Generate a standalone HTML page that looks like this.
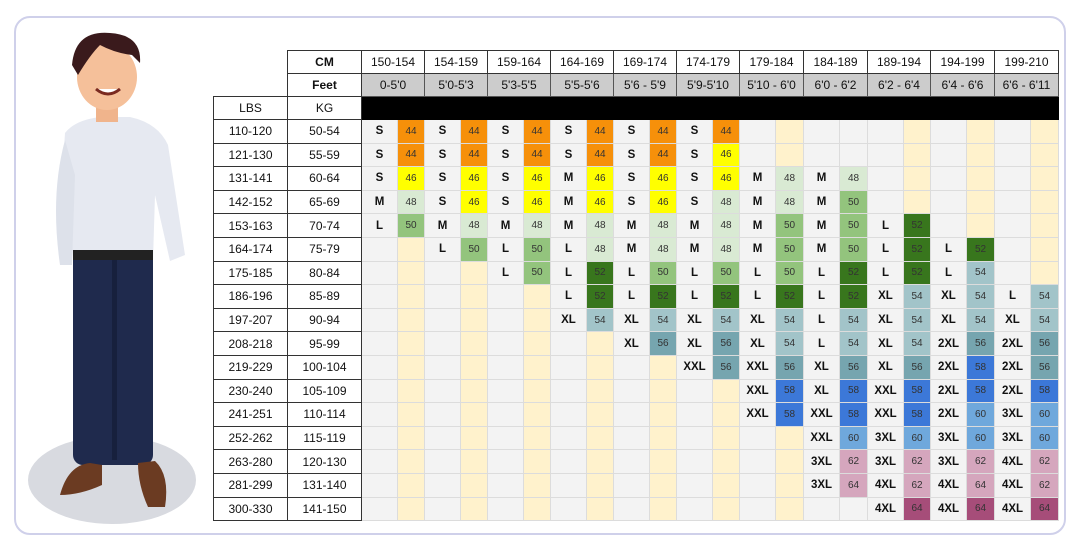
<!DOCTYPE html>
<html><head><meta charset="utf-8"><style>
body{margin:0;width:1080px;height:545px;background:#fff;position:relative;overflow:hidden;font-family:"Liberation Sans",Arial,sans-serif}
.frame{position:absolute;left:14px;top:16px;width:1048px;height:515px;border:2px solid #cfd0ea;border-radius:16px}
table{position:absolute;left:213px;top:50px;border-collapse:collapse;table-layout:fixed}
td{padding:0;text-align:center;height:22.6px;font-size:11.5px;color:#111;border:1px solid #dcdcdc;background:#f3f3f3;font-weight:bold;overflow:hidden;white-space:nowrap}
tr.hd td{height:22px}
td.h{background:#fff;border:1px solid #333;font-weight:normal;font-size:12px}
td.hb{font-weight:bold}
td.f{background:#cccccc;border:1px solid #555;font-weight:normal;font-size:12px}
td.x{border:none;background:#fff}
td.blk{background:#000;border:1px solid #000}
td.lb{background:#fff;border:1px solid #333;font-weight:normal;font-size:12px}
td.c,td.w,td[class^=n]{font-weight:normal;font-size:10px;color:#333}
.c{background:#fff2cc!important}
.w{background:#f3f3f3!important}
.n44{background:#f6900a!important}.n46{background:#ffff00!important}.n48{background:#d9ead3!important}
.n50{background:#93c47d!important}.n52{background:#38761d!important}.n54{background:#a2c4c9!important}
.n56{background:#76a5af!important}.n58{background:#3c78d8!important}.n60{background:#6fa8dc!important}
.n62{background:#d5a6bd!important}.n64{background:#a64d79!important}
tr.d td{height:22.6px}
</style></head><body>
<div class="frame"></div>
<svg style="position:absolute;left:20px;top:25px" width="190" height="500" viewBox="0 0 190 500">
<ellipse cx="92" cy="455" rx="84" ry="44" fill="#d8dae0"/>
<rect x="53" y="225" width="80" height="215" rx="10" fill="#1f2a4d"/>
<rect x="92" y="235" width="5" height="200" fill="#17203d"/>
<path d="M40 470 Q48 440 70 438 L82 440 L82 460 Q60 470 40 470Z" fill="#6b3b22"/>
<path d="M118 438 L135 436 Q150 450 145 482 L128 482 Q118 460 118 438Z" fill="#6b3b22"/>
<path d="M45 108 Q55 95 80 92 L110 92 Q138 98 148 120 L165 230 L150 236 L135 170 L133 235 L53 235 L50 170 Q42 150 45 108Z" fill="#e6e9f1"/>
<path d="M45 115 Q30 170 40 240 L52 240 L55 150Z" fill="#dde1ea"/>
<rect x="53" y="225" width="80" height="10" fill="#222"/>
<rect x="76" y="57" width="22" height="40" fill="#f0b48c"/>
<ellipse cx="87" cy="52" rx="30" ry="33" fill="#f5c09a"/>
<path d="M52 40 Q55 5 90 8 Q122 10 120 38 L112 30 Q95 28 80 20 Q70 30 58 50Z" fill="#3a1a1c"/>
<path d="M76 64 Q88 74 100 64" stroke="#7a2a20" stroke-width="3" fill="#fff"/>
</svg>
<table>
<colgroup><col style="width:74px"><col style="width:74px">
<col style="width:36px"><col style="width:27px"><col style="width:36px"><col style="width:27px"><col style="width:36px"><col style="width:27px"><col style="width:36px"><col style="width:27px"><col style="width:36px"><col style="width:27px"><col style="width:36px"><col style="width:27px"><col style="width:36px"><col style="width:28px"><col style="width:36px"><col style="width:28px"><col style="width:36px"><col style="width:27px"><col style="width:36px"><col style="width:28px"><col style="width:36px"><col style="width:28px"></colgroup>
<tr class="hd"><td class="x"></td><td class="h hb">CM</td><td class="h" colspan="2">150-154</td><td class="h" colspan="2">154-159</td><td class="h" colspan="2">159-164</td><td class="h" colspan="2">164-169</td><td class="h" colspan="2">169-174</td><td class="h" colspan="2">174-179</td><td class="h" colspan="2">179-184</td><td class="h" colspan="2">184-189</td><td class="h" colspan="2">189-194</td><td class="h" colspan="2">194-199</td><td class="h" colspan="2">199-210</td></tr>
<tr class="hd"><td class="x"></td><td class="h hb">Feet</td><td class="f" colspan="2">0-5'0</td><td class="f" colspan="2">5'0-5'3</td><td class="f" colspan="2">5'3-5'5</td><td class="f" colspan="2">5'5-5'6</td><td class="f" colspan="2">5'6 - 5'9</td><td class="f" colspan="2">5'9-5'10</td><td class="f" colspan="2">5'10 - 6'0</td><td class="f" colspan="2">6'0 - 6'2</td><td class="f" colspan="2">6'2 - 6'4</td><td class="f" colspan="2">6'4 - 6'6</td><td class="f" colspan="2">6'6 - 6'11</td></tr>
<tr class="hd"><td class="lb">LBS</td><td class="lb">KG</td><td class="blk" colspan="22"></td></tr>
<tr class="d"><td class="lb">110-120</td><td class="lb">50-54</td><td>S</td><td class="n44">44</td><td>S</td><td class="n44">44</td><td>S</td><td class="n44">44</td><td>S</td><td class="n44">44</td><td>S</td><td class="n44">44</td><td>S</td><td class="n44">44</td><td></td><td class="c"></td><td></td><td class="w"></td><td></td><td class="c"></td><td></td><td class="c"></td><td></td><td class="c"></td></tr>
<tr class="d"><td class="lb">121-130</td><td class="lb">55-59</td><td>S</td><td class="n44">44</td><td>S</td><td class="n44">44</td><td>S</td><td class="n44">44</td><td>S</td><td class="n44">44</td><td>S</td><td class="n44">44</td><td>S</td><td class="n46">46</td><td></td><td class="c"></td><td></td><td class="w"></td><td></td><td class="c"></td><td></td><td class="c"></td><td></td><td class="c"></td></tr>
<tr class="d"><td class="lb">131-141</td><td class="lb">60-64</td><td>S</td><td class="n46">46</td><td>S</td><td class="n46">46</td><td>S</td><td class="n46">46</td><td>M</td><td class="n46">46</td><td>S</td><td class="n46">46</td><td>S</td><td class="n46">46</td><td>M</td><td class="n48">48</td><td>M</td><td class="n48">48</td><td></td><td class="c"></td><td></td><td class="c"></td><td></td><td class="c"></td></tr>
<tr class="d"><td class="lb">142-152</td><td class="lb">65-69</td><td>M</td><td class="n48">48</td><td>S</td><td class="n46">46</td><td>S</td><td class="n46">46</td><td>M</td><td class="n46">46</td><td>S</td><td class="n46">46</td><td>S</td><td class="n48">48</td><td>M</td><td class="n48">48</td><td>M</td><td class="n50">50</td><td></td><td class="c"></td><td></td><td class="c"></td><td></td><td class="c"></td></tr>
<tr class="d"><td class="lb">153-163</td><td class="lb">70-74</td><td>L</td><td class="n50">50</td><td>M</td><td class="n48">48</td><td>M</td><td class="n48">48</td><td>M</td><td class="n48">48</td><td>M</td><td class="n48">48</td><td>M</td><td class="n48">48</td><td>M</td><td class="n50">50</td><td>M</td><td class="n50">50</td><td>L</td><td class="n52">52</td><td></td><td class="c"></td><td></td><td class="c"></td></tr>
<tr class="d"><td class="lb">164-174</td><td class="lb">75-79</td><td></td><td class="c"></td><td>L</td><td class="n50">50</td><td>L</td><td class="n50">50</td><td>L</td><td class="n48">48</td><td>M</td><td class="n48">48</td><td>M</td><td class="n48">48</td><td>M</td><td class="n50">50</td><td>M</td><td class="n50">50</td><td>L</td><td class="n52">52</td><td>L</td><td class="n52">52</td><td></td><td class="c"></td></tr>
<tr class="d"><td class="lb">175-185</td><td class="lb">80-84</td><td></td><td class="c"></td><td></td><td class="c"></td><td>L</td><td class="n50">50</td><td>L</td><td class="n52">52</td><td>L</td><td class="n50">50</td><td>L</td><td class="n50">50</td><td>L</td><td class="n50">50</td><td>L</td><td class="n52">52</td><td>L</td><td class="n52">52</td><td>L</td><td class="n54">54</td><td></td><td class="c"></td></tr>
<tr class="d"><td class="lb">186-196</td><td class="lb">85-89</td><td></td><td class="c"></td><td></td><td class="c"></td><td></td><td class="c"></td><td>L</td><td class="n52">52</td><td>L</td><td class="n52">52</td><td>L</td><td class="n52">52</td><td>L</td><td class="n52">52</td><td>L</td><td class="n52">52</td><td>XL</td><td class="n54">54</td><td>XL</td><td class="n54">54</td><td>L</td><td class="n54">54</td></tr>
<tr class="d"><td class="lb">197-207</td><td class="lb">90-94</td><td></td><td class="c"></td><td></td><td class="c"></td><td></td><td class="c"></td><td>XL</td><td class="n54">54</td><td>XL</td><td class="n54">54</td><td>XL</td><td class="n54">54</td><td>XL</td><td class="n54">54</td><td>L</td><td class="n54">54</td><td>XL</td><td class="n54">54</td><td>XL</td><td class="n54">54</td><td>XL</td><td class="n54">54</td></tr>
<tr class="d"><td class="lb">208-218</td><td class="lb">95-99</td><td></td><td class="c"></td><td></td><td class="c"></td><td></td><td class="c"></td><td></td><td class="c"></td><td>XL</td><td class="n56">56</td><td>XL</td><td class="n56">56</td><td>XL</td><td class="n54">54</td><td>L</td><td class="n54">54</td><td>XL</td><td class="n54">54</td><td>2XL</td><td class="n56">56</td><td>2XL</td><td class="n56">56</td></tr>
<tr class="d"><td class="lb">219-229</td><td class="lb">100-104</td><td></td><td class="c"></td><td></td><td class="c"></td><td></td><td class="c"></td><td></td><td class="c"></td><td></td><td class="c"></td><td>XXL</td><td class="n56">56</td><td>XXL</td><td class="n56">56</td><td>XL</td><td class="n56">56</td><td>XL</td><td class="n56">56</td><td>2XL</td><td class="n58">58</td><td>2XL</td><td class="n56">56</td></tr>
<tr class="d"><td class="lb">230-240</td><td class="lb">105-109</td><td></td><td class="c"></td><td></td><td class="c"></td><td></td><td class="c"></td><td></td><td class="c"></td><td></td><td class="c"></td><td></td><td class="c"></td><td>XXL</td><td class="n58">58</td><td>XL</td><td class="n58">58</td><td>XXL</td><td class="n58">58</td><td>2XL</td><td class="n58">58</td><td>2XL</td><td class="n58">58</td></tr>
<tr class="d"><td class="lb">241-251</td><td class="lb">110-114</td><td></td><td class="c"></td><td></td><td class="c"></td><td></td><td class="c"></td><td></td><td class="c"></td><td></td><td class="c"></td><td></td><td class="c"></td><td>XXL</td><td class="n58">58</td><td>XXL</td><td class="n58">58</td><td>XXL</td><td class="n58">58</td><td>2XL</td><td class="n60">60</td><td>3XL</td><td class="n60">60</td></tr>
<tr class="d"><td class="lb">252-262</td><td class="lb">115-119</td><td></td><td class="c"></td><td></td><td class="c"></td><td></td><td class="c"></td><td></td><td class="c"></td><td></td><td class="c"></td><td></td><td class="c"></td><td></td><td class="c"></td><td>XXL</td><td class="n60">60</td><td>3XL</td><td class="n60">60</td><td>3XL</td><td class="n60">60</td><td>3XL</td><td class="n60">60</td></tr>
<tr class="d"><td class="lb">263-280</td><td class="lb">120-130</td><td></td><td class="c"></td><td></td><td class="c"></td><td></td><td class="c"></td><td></td><td class="c"></td><td></td><td class="c"></td><td></td><td class="c"></td><td></td><td class="c"></td><td>3XL</td><td class="n62">62</td><td>3XL</td><td class="n62">62</td><td>3XL</td><td class="n62">62</td><td>4XL</td><td class="n62">62</td></tr>
<tr class="d"><td class="lb">281-299</td><td class="lb">131-140</td><td></td><td class="c"></td><td></td><td class="c"></td><td></td><td class="c"></td><td></td><td class="c"></td><td></td><td class="c"></td><td></td><td class="c"></td><td></td><td class="c"></td><td>3XL</td><td class="n62">64</td><td>4XL</td><td class="n62">62</td><td>4XL</td><td class="n62">64</td><td>4XL</td><td class="n62">62</td></tr>
<tr class="d"><td class="lb">300-330</td><td class="lb">141-150</td><td></td><td class="c"></td><td></td><td class="c"></td><td></td><td class="c"></td><td></td><td class="c"></td><td></td><td class="c"></td><td></td><td class="c"></td><td></td><td class="c"></td><td></td><td class="w"></td><td>4XL</td><td class="n64">64</td><td>4XL</td><td class="n64">64</td><td>4XL</td><td class="n64">64</td></tr>
</table>
</body></html>
